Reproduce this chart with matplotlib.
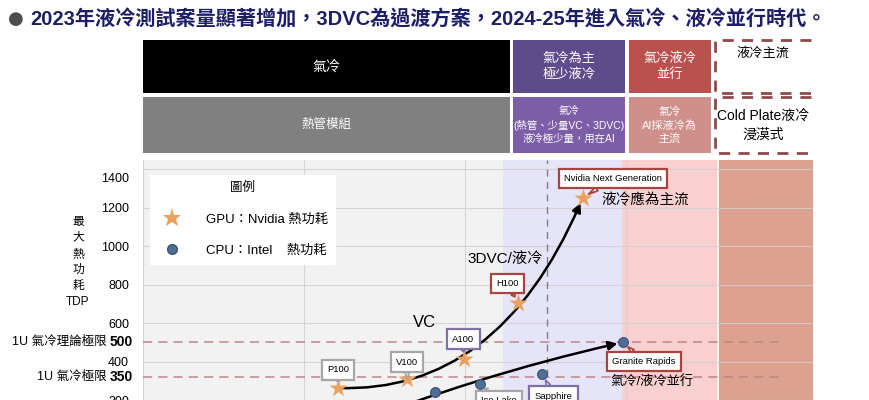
import numpy as np
import matplotlib.pyplot as plt
from matplotlib.lines import Line2D
from matplotlib.patches import Rectangle
from matplotlib.transforms import ScaledTranslation

plt.rcParams['font.family'] = ['Liberation Sans', 'Noto Sans CJK TC']

# y axis: gridlines are evenly spaced although the values are not
y_knots = [0, 100, 200, 300, 350, 400, 600, 800, 1000, 1200, 1400, 1600]
y_pos = [0, 1, 2, 3, 3.6, 4, 5, 6, 7, 8, 9, 10]
y_ticks = [300, 400, 600, 800, 1000, 1200, 1400]

# GPU (Nvidia) max TDP
gpu_names = ['P100', 'V100', 'A100', 'H100', 'Nvidia Next Generation']
gpu_x = [1.21, 1.64, 1.99, 2.33, 2.73]
gpu_tdp = [326, 346, 415, 705, 1250]
gpu_box = ['#a6a6a6', '#a6a6a6', '#8070a8', '#a8433f', '#a8433f']

# CPU (Intel) max TDP
cpu_names = ['', 'Ice Lake', 'Sapphire', 'Granite Rapids']
cpu_x = [1.81, 2.09, 2.48, 2.98]
cpu_tdp = [317, 335, 360, 500]
cpu_box = ['#a6a6a6', '#a6a6a6', '#8070a8', '#a8433f']
cpu_trend_x = [1.22, 2.98]
cpu_trend_y = [222, 500]

limits = [500, 350]
limit_names = ['1U 氣冷理論極限', '1U 氣冷極限']

header_top = ['氣冷', '氣冷為主\n極少液冷', '氣冷液冷\n並行', '液冷主流']
header_bottom = ['熱管模組', '氣冷\n(熱管、少量VC、3DVC)\n液冷極少量，用在AI',
                 '氣冷\nAI採液冷為\n主流', 'Cold Plate液冷\n浸漠式']

W, H = 870, 400
fig = plt.figure(figsize=(W / 100, H / 100), dpi=100)

# title
fig.text(8 / W, 1 - 19 / H, '●', fontsize=13, color='#4d4d4d', va='center',
         family='DejaVu Sans')
fig.text(30 / W, 1 - 19 / H,
         '2023年液冷測試案量顯著增加，3DVC為過渡方案，2024-25年進入氣冷、液冷並行時代。',
         fontsize=14.5, fontweight='bold', color='#1c1f66', va='center')

# ---- main chart
ax = fig.add_axes([143 / W, 1 - 515.5 / H, 670 / W, 355.5 / H])
ax.set_yscale('function', functions=(lambda v: np.interp(v, y_knots, y_pos),
                                     lambda p: np.interp(p, y_pos, y_knots)))
ax.set_xlim(0, 4.16)
ax.set_ylim(0, 1447)
ax.set_facecolor('#f2f2f2')
ax.axvspan(2.236, 2.975, color='#e5e4f8', zorder=0.2, lw=0)
ax.axvspan(2.975, 3.565, color='#f8d0d0', zorder=0.2, lw=0)
ax.axvspan(3.578, 4.16, color='#dca18f', zorder=0.2, lw=0)
ax.set_axisbelow(True)
ax.grid(True, color='#d0d0d0', lw=0.8, alpha=0.85)
ax.set_xticks([0, 1, 2, 3])
ax.set_xticklabels([])
ax.set_yticks(y_ticks)
ax.set_yticklabels([str(v) for v in y_ticks])
ax.tick_params(length=0, pad=10, labelsize=9)
for s in ax.spines.values():
    s.set_visible(False)
# the 1400 label sits a little under its gridline in the original
lab = ax.get_yticklabels()[-1]
lab.set_transform(lab.get_transform() + ScaledTranslation(0, -0.08, fig.dpi_scale_trans))

ax.axvline(2.509, color='#7f7f7f', ls=(0, (5, 4)), lw=1, zorder=1)
ax.hlines(limits, 0, 3.975, color='#bf8585', ls=(0, (6, 4)), lw=1.1, zorder=1)
tr = ax.get_yaxis_transform()
for v, name in zip(limits, limit_names):
    ax.text(-0.015, v, str(v), transform=tr, ha='right', va='center',
            fontsize=10, fontweight='bold')
    ax.text(-0.055, v, name, transform=tr, ha='right', va='center', fontsize=9)
fig.text(78 / W, 1 - 262 / H, '最\n大\n熱\n功\n耗\nTDP', ha='center', va='center',
         fontsize=8.5, linespacing=1.45)

# trend arrows
ax.annotate('', xy=(gpu_x[-1], gpu_tdp[-1]), xytext=(gpu_x[0], gpu_tdp[0]),
            arrowprops=dict(arrowstyle='-|>', color='black', lw=1.8, mutation_scale=13,
                            shrinkA=0, shrinkB=4,
                            connectionstyle='angle3,angleA=-2,angleB=67'), zorder=3)
ax.annotate('', xy=(cpu_trend_x[1], cpu_trend_y[1]), xytext=(cpu_trend_x[0], cpu_trend_y[0]),
            arrowprops=dict(arrowstyle='-|>', color='black', lw=1.8, mutation_scale=13,
                            shrinkA=0, shrinkB=4, connectionstyle='arc3,rad=-0.04'),
            zorder=3)

ax.scatter(gpu_x, gpu_tdp, marker='*', s=190, color='#e9a15f', zorder=4, lw=0)
ax.scatter(cpu_x, cpu_tdp, marker='o', s=50, color='#4f6e96', edgecolor='#3b5275',
           lw=0.8, zorder=4)


def callout(x, y, text, color, dx, dy):
    ax.annotate(text, (x, y), xytext=(dx, dy), textcoords='offset points',
                ha='center', va='center', fontsize=6.8, zorder=6,
                bbox=dict(boxstyle='square,pad=0.55', fc='white', ec=color, lw=1.6),
                arrowprops=dict(arrowstyle='wedge,tail_width=0.45,shrink_factor=0.5',
                                fc='white', ec=color, lw=1.3, shrinkA=0, shrinkB=5))


gpu_off = [(0, 13), (0, 12), (0, 14), (-8, 14), (22, 14)]
for x, y, n, c, (dx, dy) in zip(gpu_x, gpu_tdp, gpu_names, gpu_box, gpu_off):
    callout(x, y, n, c, dx, dy)
cpu_off = [(0, -40), (14, -12), (8, -16), (15, -14)]
for x, y, n, c, (dx, dy) in zip(cpu_x, cpu_tdp, cpu_names, cpu_box, cpu_off):
    if n:
        callout(x, y, n, c, dx, dy)

ax.text(1.75, 605, 'VC', fontsize=12, ha='center', va='center')
ax.text(2.25, 935, '3DVC/液冷', fontsize=11, ha='center', va='center')
ax.text(3.12, 1240, '液冷應為主流', fontsize=10.5, ha='center', va='center')
ax.text(3.16, 356, '氣冷/液冷並行', fontsize=9.5, ha='center', va='top')

handles = [Line2D([], [], marker='*', ls='', ms=14, color='#e9a15f', mew=0),
           Line2D([], [], marker='o', ls='', ms=7, mfc='#4f6e96', mec='#3b5275')]
leg = ax.legend(handles, ['GPU：Nvidia 熱功耗', 'CPU：Intel    熱功耗'], title='圖例',
                loc='upper left', bbox_to_anchor=(0.0105, 0.958), fontsize=9.5,
                title_fontsize=9, frameon=True, fancybox=False, framealpha=1,
                edgecolor='white', facecolor='white', borderpad=0.55,
                labelspacing=1.45, handletextpad=1.5, handlelength=2.2, borderaxespad=0)
leg.set_zorder(7)

# ---- header
hx = fig.add_axes([143 / W, 1 - 155 / H, 670 / W, 117 / H])
hx.set_xlim(0, 4.16)
hx.set_ylim(155, 38)
hx.axis('off')
cols = [(0, 2.28), (2.295, 2.995), (3.015, 3.525), (3.55, 4.15)]
top_fc = ['black', '#5e4b8b', '#b9524f', None]
bot_fc = ['#808080', '#7b5ea7', '#cf8f8a', None]
top_fs = [10, 9.5, 9.5, 9.5]
bot_fs = [9, 7.5, 8, 10]
for (x0, x1), t, b, ft, fb, ts, bs in zip(cols, header_top, header_bottom,
                                          top_fc, bot_fc, top_fs, bot_fs):
    xc = (x0 + x1) / 2
    for (r0, r1), fc, txt, fs in [((40, 93), ft, t, ts), ((97, 153), fb, b, bs)]:
        if fc:
            hx.add_patch(Rectangle((x0, r0), x1 - x0, r1 - r0, fc=fc, lw=0))
            hx.text(xc, (r0 + r1) / 2, txt, color='white', ha='center', va='center',
                    fontsize=fs, linespacing=1.35)
        else:
            hx.plot([x1, x0, x0, x1], [r0, r0, r1, r1], color='#8c4a4a', lw=2,
                    ls=(0, (4, 3)))
            yt = 53 if r0 == 40 else (r0 + r1) / 2
            hx.text(xc, yt, txt, ha='center', va='center', fontsize=fs, linespacing=1.5)

fig.savefig('out.png', dpi=100)
